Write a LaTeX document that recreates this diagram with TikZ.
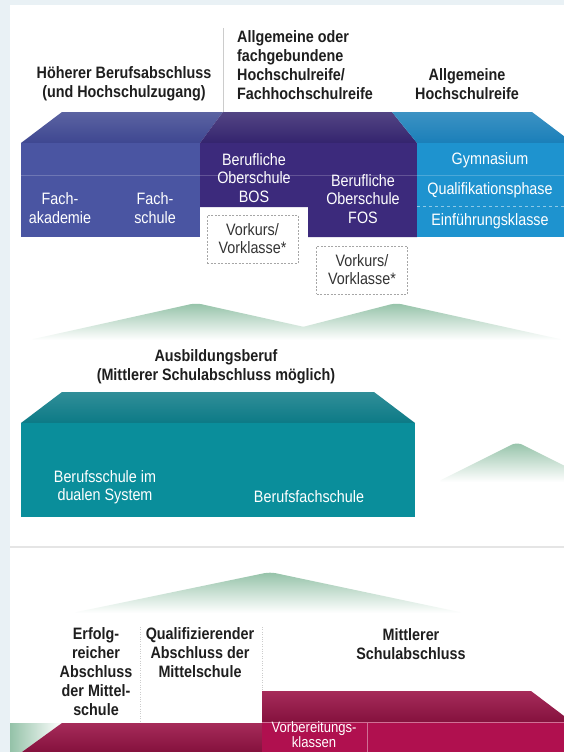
\documentclass[tikz,border=0pt]{standalone}
\usepackage{fontspec}
\setmainfont{Liberation Sans}[FakeStretch=0.87]
\definecolor{bgblue}{HTML}{E9F1F5}
\definecolor{fachfront}{HTML}{4A55A2}
\definecolor{fachtop}{HTML}{3E4791}
\definecolor{bosfront}{HTML}{3C2A7C}
\definecolor{bostop}{HTML}{34246E}
\definecolor{gymfront}{HTML}{1E93CF}
\definecolor{gymtop}{HTML}{1A7FB9}
\definecolor{berufront}{HTML}{0A8E9B}
\definecolor{berutop}{HTML}{0C7A86}
\definecolor{msfront}{HTML}{B0104F}
\definecolor{mstop}{HTML}{9C1448}
\definecolor{hill}{HTML}{94C2A8}
\definecolor{headtext}{HTML}{1E1E1E}
\tikzset{
    headline/.style={font=\bfseries\fontsize{16.5}{19}\selectfont, text=headtext, align=center, inner sep=0pt},
    boxtext/.style={font=\fontsize{16.5}{18.5}\selectfont, text=white, align=center, inner sep=0pt},
    vorkurs/.style={draw=gray!70, dash pattern=on 2pt off 1.5pt, text=black!80, minimum width=91pt, minimum height=48pt, align=center, font=\fontsize{16.5}{18}\selectfont, inner sep=0pt},
    hillshade/.style={top color=hill, middle color=hill!60!white, bottom color=white, rounded corners=6pt}
}
\begin{document}
\begin{tikzpicture}[x=1pt,y=-1pt]
\clip (0,0) rectangle (564,752);
\fill[bgblue] (0,0) rectangle (564,752);
\fill[white] (10,5) rectangle (564,752);
\draw[gray!20, line width=2pt] (10,547) -- (564,547);
\foreach \l/\px/\py/\r/\b in {29/196/303/363/340, 252/396/303/564/340, 437/517/442/597/482, 72/270/572/464/613}
{
    \shade[hillshade] (\l,\b) -- (\px,\py) -- (\r,\b) -- cycle;
}
\draw[gray!40] (223,28) -- (223,112);
\node[headline] (hoeher) at (124,84) {Höherer Berufsabschluss\\(und Hochschulzugang)};
\node[headline, align=left, anchor=west] (fhreife) at (237,65) {Allgemeine oder\\fachgebundene\\Hochschulreife/\\Fachhochschulreife};
\node[headline] (abitur) at (467,84) {Allgemeine\\Hochschulreife};
\shade[top color=fachtop!85!white, bottom color=fachtop] (21,143) -- (62,112) -- (223,112) -- (200,143) -- cycle;
\shade[top color=bostop!85!white, bottom color=bostop] (200,143) -- (223,112) -- (392,112) -- (417,143) -- cycle;
\shade[top color=gymtop!85!white, bottom color=gymtop] (417,143) -- (392,112) -- (532,112) -- (573,143) -- cycle;
\fill[fachfront] (21,143) rectangle (200,237);
\fill[bosfront] (200,143) -- (417,143) -- (417,237) -- (308,237) -- (308,207) -- (200,207) -- cycle;
\fill[gymfront] (417,143) rectangle (564,237);
\draw[white, opacity=.2] (21,175) -- (564,175);
\draw[white, opacity=.5, dashed] (417,206) -- (564,206);
\node[boxtext] (fachak) at (60,208) {Fach-\\akademie};
\node[boxtext] (fachsch) at (155,208) {Fach-\\schule};
\node[boxtext] (bos) at (254,178) {Berufliche\\Oberschule\\BOS};
\node[boxtext] (fos) at (363,199) {Berufliche\\Oberschule\\FOS};
\node[boxtext] (gym) at (490,160) {Gymnasium};
\node[boxtext] (quali) at (490,190) {Qualifikationsphase};
\node[boxtext] (einf) at (490,221) {Einführungsklasse};
\foreach \n/\x/\y in {1/252.5/239, 2/362/270}
{
    \node[vorkurs] (vk\n) at (\x,\y) {Vorkurs/\\Vorklasse*};
}
\node[headline] (ausb) at (216,367) {Ausbildungsberuf\\(Mittlerer Schulabschluss möglich)};
\shade[top color=berutop!85!white, bottom color=berutop] (21,423) -- (62,392) -- (374,392) -- (415,423) -- cycle;
\fill[berufront] (21,423) rectangle (415,517);
\node[boxtext] (dual) at (105,487) {Berufsschule im\\dualen System};
\node[boxtext] (bfs) at (309,497) {Berufsfachschule};
\node[headline] (erfolg) at (96,672) {Erfolg-\\reicher\\Abschluss\\der Mittel-\\schule};
\node[headline] (quabi) at (200,653) {Qualifizierender\\Abschluss der\\Mittelschule};
\node[headline] (msa) at (411,644) {Mittlerer\\Schulabschluss};
\draw[gray!40, dotted] (140,627) -- (140,723);
\draw[gray!40, dotted] (262,627) -- (262,691);
\shade[left color=hill, right color=white] (10,723) -- (62,723) -- (22,752) -- (10,752) -- cycle;
\shade[top color=mstop!90!white, bottom color=mstop!85!black] (22,752) -- (62,723) -- (262,723) -- (262,752) -- cycle;
\shade[top color=mstop!90!white, bottom color=mstop!85!black] (262,722) -- (262,691) -- (531,691) -- (572,722) -- cycle;
\fill[msfront] (262,722) rectangle (564,752);
\draw[msfront!60!white] (262,722) -- (564,722);
\draw[msfront!60!white] (367,722) -- (367,752);
\node[boxtext, font=\fontsize{15}{12}\selectfont] (vorb) at (314,735) {Vorbereitungs-\\klassen};
\end{tikzpicture}
\end{document}
